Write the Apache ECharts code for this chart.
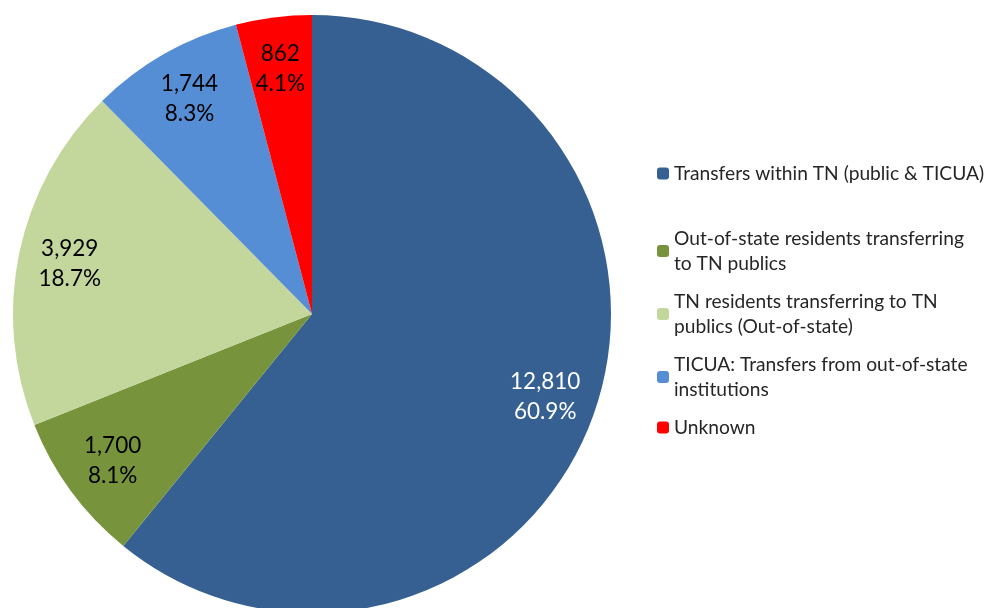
<!DOCTYPE html>
<html>
<head>
<meta charset="utf-8">
<script src="https://cdn.jsdelivr.net/npm/echarts@6/dist/echarts.min.js"></script>
<style>
  html, body { margin: 0; padding: 0; background: #fff; }
  #chart { width: 987px; height: 608px; }
</style>
</head>
<body>
<div id="chart"></div>
<script>
// slice data, clockwise from 12 o'clock
var categories = [
  'Transfers within TN (public & TICUA)',
  'Out-of-state residents transferring\nto TN publics',
  'TN residents transferring to TN\npublics (Out-of-state)',
  'TICUA: Transfers from out-of-state\ninstitutions',
  'Unknown'
];
var values = [12810, 1700, 3929, 1744, 862];
var colors = ['#366092', '#77933c', '#c3d69b', '#558ed5', '#ff0000'];
var labelColors = ['#ffffff', '#000000', '#000000', '#000000', '#000000'];

var FONT = 'Lato, "Open Sans", sans-serif';

var pieData = categories.map(function (name, i) {
  return { name: name, value: values[i], itemStyle: { color: colors[i] } };
});
// transparent copy only used to place the labels further out
var labelData = categories.map(function (name, i) {
  return {
    name: name,
    value: values[i],
    itemStyle: { color: 'rgba(0,0,0,0)' },
    label: { color: labelColors[i] }
  };
});

var legendBase = {
  orient: 'vertical',
  left: 657,
  padding: 0,
  itemWidth: 12,
  itemHeight: 12,
  itemGap: 13,
  selectedMode: false,
  textStyle: { fontFamily: FONT, fontSize: 19.2, color: '#262626', lineHeight: 25 }
};

var option = {
  animation: false,
  legend: [
    Object.assign({}, legendBase, { top: 161, data: categories.slice(0, 1) }),
    Object.assign({}, legendBase, { top: 226, data: categories.slice(1) })
  ],
  series: [
    {
      name: 'main',
      type: 'pie',
      center: [312, 314],
      radius: [0, 299],
      startAngle: 90,
      clockwise: true,
      label: { show: false },
      labelLine: { show: false },
      itemStyle: { borderWidth: 0 },
      emphasis: { disabled: true },
      data: pieData
    },
    {
      name: 'labels',
      type: 'pie',
      silent: true,
      center: [312, 314],
      radius: [190, 299],
      startAngle: 90,
      clockwise: true,
      label: {
        show: true,
        position: 'inside',
        fontFamily: FONT,
        fontSize: 22.5,
        lineHeight: 30,
        formatter: function (p) {
          return p.value.toLocaleString('en-US') + '\n' + p.percent.toFixed(1) + '%';
        }
      },
      labelLine: { show: false },
      emphasis: { disabled: true },
      data: labelData
    }
  ]
};

var myChart = echarts.init(document.getElementById('chart'));
myChart.setOption(option);
</script>
</body>
</html>
